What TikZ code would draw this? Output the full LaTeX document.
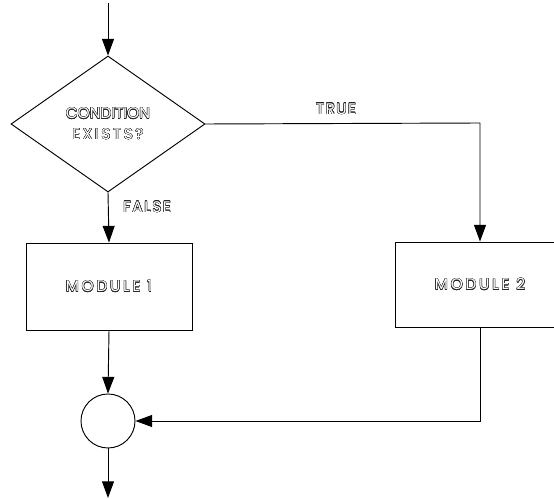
\documentclass[tikz,border=0pt]{standalone}
\usepackage{fontspec}
\setmainfont{Poppins}
\usepackage[copies]{contour}
\contourlength{0.3pt}
\contournumber{16}
\usetikzlibrary{shapes.geometric,arrows.meta}
\newcommand\olt[2]{{\addfontfeature{LetterSpace=#1}\color{white}\contour{black!85}{#2}}}
\begin{document}
\begin{tikzpicture}[x=0.75pt,y=-0.75pt,
  line width=0.7pt,
  flow/.style={-{Triangle[length=12.5pt,width=9pt]}},
  lbl/.style={font=\fontsize{11.5}{13}\selectfont, inner sep=0pt},
  decision/.style={draw, diamond, minimum width=145.5pt, minimum height=102pt, inner sep=0pt, lbl, align=center},
  module/.style={draw, rectangle, inner sep=0pt, lbl}]
\useasboundingbox (0,0) rectangle (554,499);
\clip (0,0) rectangle (554,499);
\coordinate (start) at (108,3);
\node[decision] (cond) at (108,124) {\olt{0}{CONDITION}\\[2.5pt]\olt{17}{EXISTS?}};
\node[module, minimum width=124.5pt, minimum height=65.25pt] (m1) at (109,286.5) {\olt{18}{MODULE 1}};
\node[module, minimum width=127.5pt, minimum height=63.75pt] (m2) at (480,284.5) {\olt{18}{MODULE 2}};
\node[draw, circle, minimum size=40.5pt, inner sep=0pt] (join) at (108,421) {};
\coordinate (end) at (108,498);
\coordinate (tc) at (480,123);
\coordinate (jc) at (480,421);
\node[lbl] (t) at (336,109) {\olt{9}{TRUE}};
\node[lbl] (f) at (147,207) {\olt{10}{FALSE}};
\draw[flow] (start) -- (cond.north);
\draw[flow] (cond.east) -- (tc) -- (m2.north);
\draw[flow] (cond.south) -- (m1.north);
\draw[flow] (m1.south) -- (join.north);
\draw[flow] (m2.south) -- (jc) -- (join.east);
\draw[flow] (join.south) -- (end);
\end{tikzpicture}
\end{document}
